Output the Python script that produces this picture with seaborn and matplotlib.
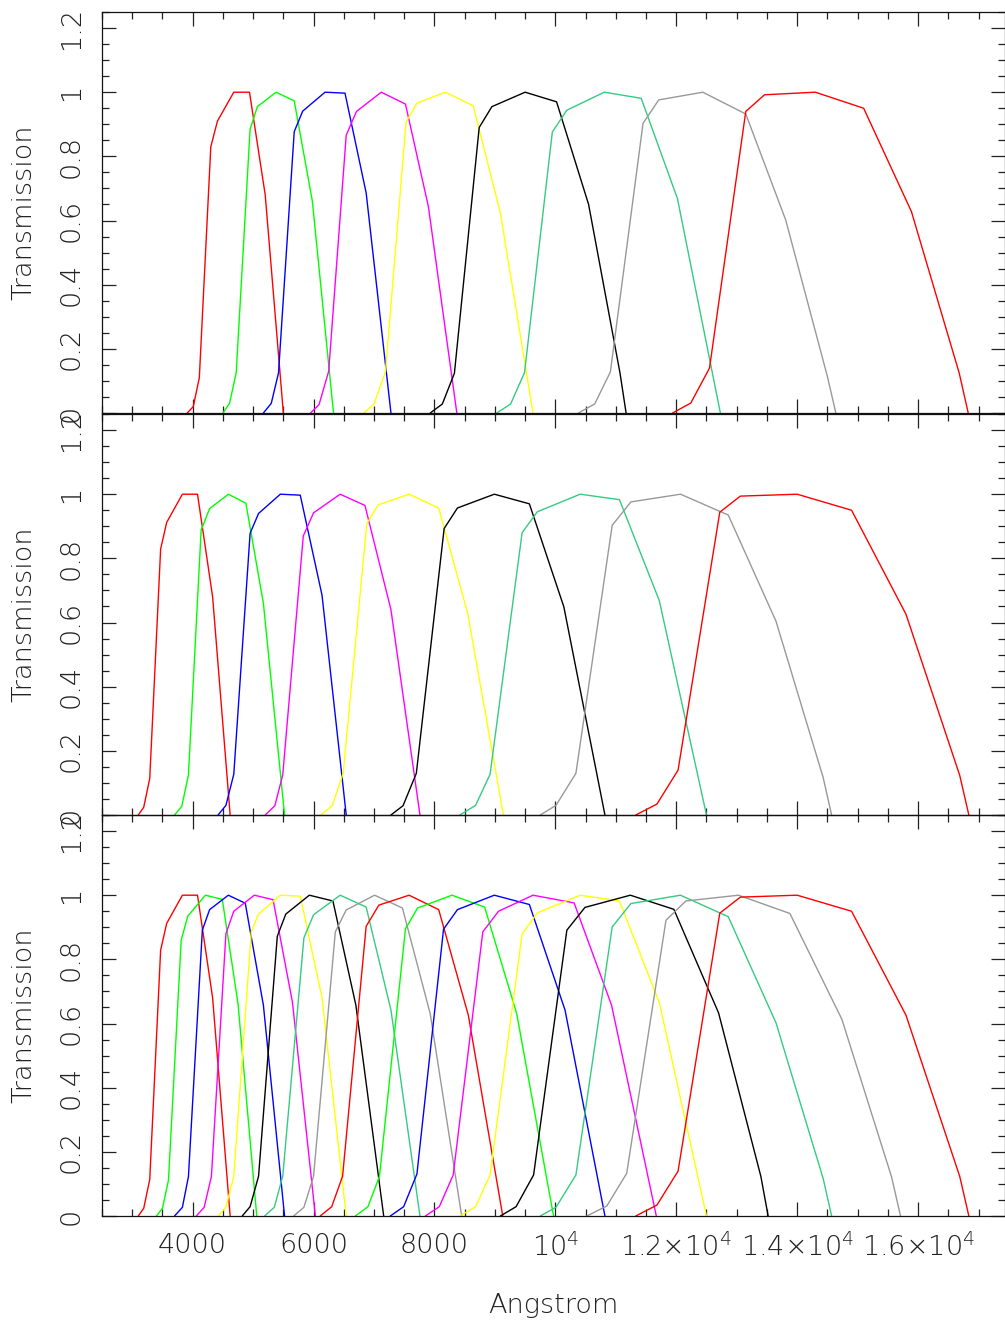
"""
plot.py
---------------------------------------------------------------------
Filter transmission curves in three stacked panels (PGPLOT look)
"""
import matplotlib
matplotlib.use("Agg")
import matplotlib.pyplot as plt
from matplotlib.ticker import MultipleLocator
import pandas as pd
import seaborn as sns


COLORS = ["#ff0000", "#00ff00", "#0000ff", "#ff00ff", "#ffff00",
          "#000000", "#33cc80", "#999999"]

# top panel
TOP_WAVE = [
    [3910, 4010, 4110, 4300, 4410, 4680, 4940, 5200, 5500],
    [4500, 4610, 4720, 4950, 5070, 5380, 5680, 5980, 6330],
    [5170, 5300, 5420, 5680, 5820, 6190, 6520, 6870, 7280],
    [5950, 6090, 6250, 6540, 6710, 7120, 7520, 7900, 8370],
    [6830, 7000, 7190, 7530, 7710, 8180, 8640, 9090, 9630],
    [7930, 8130, 8330, 8740, 8950, 9500, 10020, 10550, 11070, 11170],
    [9030, 9260, 9490, 9950, 10190, 10810, 11420, 12020, 12730],
    [10380, 10650, 10910, 11450, 11710, 12440, 13150, 13810, 14500, 14640],
    [11940, 12240, 12550, 13150, 13460, 14300, 15100, 15890, 16680, 16830],
]
TOP_TRANS = [
    [0, 0.02, 0.11, 0.83, 0.91, 1.0, 1.0, 0.68, 0],
    [0, 0.03, 0.125, 0.885, 0.955, 1.0, 0.973, 0.66, 0],
    [0, 0.03, 0.125, 0.877, 0.941, 1.0, 0.997, 0.686, 0],
    [0, 0.026, 0.13, 0.866, 0.94, 1.0, 0.963, 0.643, 0],
    [0, 0.028, 0.129, 0.907, 0.966, 1.0, 0.958, 0.624, 0],
    [0, 0.028, 0.124, 0.89, 0.955, 1.0, 0.97, 0.65, 0.124, 0],
    [0, 0.028, 0.126, 0.876, 0.944, 1.0, 0.981, 0.668, 0],
    [0, 0.028, 0.128, 0.903, 0.976, 1.0, 0.932, 0.602, 0.114, 0],
    [0, 0.031, 0.14, 0.94, 0.992, 1.0, 0.95, 0.628, 0.125, 0],
]

# middle panel
MID_WAVE = [
    [3100, 3190, 3290, 3470, 3570, 3830, 4080, 4330, 4620],
    [3700, 3820, 3930, 4140, 4280, 4590, 4880, 5170, 5520],
    [4420, 4550, 4680, 4950, 5090, 5450, 5780, 6140, 6540],
    [5200, 5360, 5490, 5830, 6000, 6440, 6850, 7280, 7760],
    [6120, 6310, 6490, 6880, 7070, 7580, 8070, 8550, 9140],
    [7280, 7480, 7700, 8160, 8380, 8990, 9570, 10140, 10820],
    [8420, 8680, 8920, 9450, 9700, 10410, 11060, 11720, 12500],
    [9750, 10010, 10340, 10940, 11250, 12070, 12860, 13650, 14430, 14570],
    [11330, 11680, 12030, 12720, 13060, 14000, 14900, 15800, 16690, 16840],
]
MID_TRANS = [
    [0, 0.024, 0.114, 0.829, 0.912, 1.0, 1.0, 0.68, 0],
    [0, 0.027, 0.125, 0.888, 0.955, 1.0, 0.972, 0.66, 0],
    [0, 0.03, 0.127, 0.878, 0.94, 1.0, 0.997, 0.685, 0],
    [0, 0.029, 0.125, 0.87, 0.942, 1.0, 0.965, 0.64, 0],
    [0, 0.03, 0.13, 0.908, 0.967, 1.0, 0.957, 0.628, 0],
    [0, 0.029, 0.13, 0.893, 0.957, 1.0, 0.97, 0.649, 0],
    [0, 0.03, 0.127, 0.88, 0.945, 1.0, 0.983, 0.668, 0],
    [0, 0.03, 0.13, 0.903, 0.976, 1.0, 0.935, 0.604, 0.117, 0],
    [0, 0.034, 0.14, 0.944, 0.994, 1.0, 0.95, 0.626, 0.123, 0],
]

# bottom panel
BOT_WAVE = [
    [3100, 3190, 3290, 3470, 3570, 3830, 4080, 4330, 4620],
    [3400, 3500, 3600, 3810, 3920, 4210, 4490, 4750, 5060],
    [3700, 3830, 3930, 4160, 4280, 4590, 4870, 5170, 5520],
    [4060, 4190, 4310, 4550, 4680, 5020, 5330, 5650, 6030],
    [4420, 4550, 4680, 4970, 5090, 5450, 5780, 6140, 6540],
    [4820, 4950, 5090, 5400, 5540, 5930, 6320, 6700, 7160],
    [5190, 5350, 5490, 5840, 6000, 6440, 6870, 7280, 7760],
    [5670, 5840, 6000, 6360, 6540, 7010, 7470, 7930, 8450],
    [6110, 6300, 6480, 6870, 7080, 7580, 8070, 8560, 9130],
    [6690, 6900, 7090, 7520, 7720, 8290, 8830, 9360, 9970],
    [7270, 7490, 7710, 8150, 8380, 8990, 9570, 10160, 10820],
    [7850, 8080, 8310, 8800, 9060, 9630, 10310, 10930, 11670],
    [8420, 8680, 8920, 9450, 9700, 10410, 11060, 11720, 12500],
    [9090, 9350, 9640, 10190, 10490, 11240, 11960, 12700, 13400, 13520],
    [9750, 10010, 10340, 10940, 11250, 12070, 12860, 13650, 14430, 14570],
    [10520, 10850, 11180, 11830, 12160, 13030, 13880, 14740, 15560, 15710],
    [11330, 11680, 12030, 12720, 13060, 14000, 14900, 15800, 16690, 16840],
]
BOT_TRANS = [
    [0, 0.024, 0.114, 0.829, 0.912, 1.0, 1.0, 0.68, 0],
    [0, 0.024, 0.112, 0.86, 0.935, 1.0, 0.987, 0.662, 0],
    [0, 0.027, 0.123, 0.891, 0.955, 1.0, 0.975, 0.657, 0],
    [0, 0.027, 0.123, 0.88, 0.95, 1.0, 0.986, 0.667, 0],
    [0, 0.027, 0.124, 0.886, 0.941, 1.0, 0.997, 0.68, 0],
    [0, 0.029, 0.124, 0.872, 0.941, 1.0, 0.982, 0.657, 0],
    [0, 0.027, 0.124, 0.867, 0.939, 1.0, 0.963, 0.642, 0],
    [0, 0.027, 0.124, 0.886, 0.954, 1.0, 0.96, 0.63, 0],
    [0, 0.029, 0.124, 0.903, 0.969, 1.0, 0.955, 0.626, 0],
    [0, 0.029, 0.124, 0.895, 0.96, 1.0, 0.963, 0.631, 0],
    [0, 0.029, 0.131, 0.894, 0.955, 1.0, 0.971, 0.642, 0],
    [0, 0.029, 0.128, 0.886, 0.95, 1.0, 0.976, 0.657, 0],
    [0, 0.029, 0.128, 0.879, 0.945, 1.0, 0.982, 0.665, 0],
    [0, 0.029, 0.128, 0.891, 0.962, 1.0, 0.956, 0.633, 0.123, 0],
    [0, 0.027, 0.128, 0.901, 0.974, 1.0, 0.933, 0.602, 0.117, 0],
    [0, 0.031, 0.133, 0.922, 0.982, 1.0, 0.943, 0.613, 0.123, 0],
    [0, 0.034, 0.14, 0.944, 0.994, 1.0, 0.95, 0.626, 0.123, 0],
]

Y_TICKS = [0, 0.2, 0.4, 0.6, 0.8, 1.0, 1.2]
Y_LABELS = ["0", "0.2", "0.4", "0.6", "0.8", "1", "1.2"]
X_TICKS = [4000, 6000, 8000, 10000, 12000, 14000, 16000]
X_LABELS = ["4000", "6000", "8000", r"$10^{4}$", r"$1.2{\times}10^{4}$",
            r"$1.4{\times}10^{4}$", r"$1.6{\times}10^{4}$"]

TEXT = "#222222"


def to_frame(waves, trans):
    rows = []
    for i, (w, t) in enumerate(zip(waves, trans)):
        for x, y in zip(w, t):
            rows.append((i, x, y))
    return pd.DataFrame(rows, columns=["band", "wave", "trans"])


def main():
    sns.set_theme(style="white")
    plt.rcParams["font.family"] = ["DejaVu Sans"]
    plt.rcParams["font.weight"] = "light"
    plt.rcParams["font.size"] = 19.5
    plt.rcParams["axes.labelsize"] = 19.5
    plt.rcParams["axes.labelweight"] = "light"
    plt.rcParams["xtick.labelsize"] = 19.5
    plt.rcParams["ytick.labelsize"] = 19.5
    plt.rcParams["mathtext.fontset"] = "dejavusans"

    fig = plt.figure(figsize=(10.05, 13.24), dpi=100)
    left, width, height = 102 / 1005, 902.5 / 1005, 401 / 1324
    bottoms = [1 - 413 / 1324, 1 - 815 / 1324, 1 - 1216 / 1324]
    panels = [(TOP_WAVE, TOP_TRANS), (MID_WAVE, MID_TRANS), (BOT_WAVE, BOT_TRANS)]

    for k, (waves, trans) in enumerate(panels):
        ax = fig.add_axes([left, bottoms[k], width, height])
        ax.set_facecolor("none")
        df = to_frame(waves, trans)
        pal = {i: COLORS[i % len(COLORS)] for i in range(len(waves))}
        sns.lineplot(data=df, x="wave", y="trans", hue="band", palette=pal,
                     estimator=None, sort=False, legend=False,
                     linewidth=1.0, ax=ax)

        ax.set_xlim(2500, 17430)
        ax.set_ylim(0, 1.25)
        ax.set_xticks(X_TICKS)
        ax.xaxis.set_minor_locator(MultipleLocator(500))
        ax.set_yticks(Y_TICKS)
        ax.yaxis.set_minor_locator(MultipleLocator(0.05))
        ax.set_yticklabels(Y_LABELS, rotation=90, va="center", color=TEXT)
        if k == 2:
            ax.set_xticklabels(X_LABELS, color=TEXT)
            ax.set_xlabel("Angstrom", color=TEXT, labelpad=23)
        else:
            ax.set_xticklabels([])
            ax.set_xlabel("")
        ax.set_ylabel("Transmission", color=TEXT, labelpad=16)

        ax.tick_params(which="both", direction="in", top=True, right=True,
                       bottom=True, left=True, width=0.9, color="#222222")
        ax.tick_params(which="major", length=10)
        ax.tick_params(which="minor", length=5)
        ax.tick_params(axis="y", pad=13)
        ax.tick_params(axis="x", pad=12)
        for spine in ax.spines.values():
            spine.set_linewidth(0.9)
            spine.set_color("#111111")

    fig.savefig("out.png", dpi=100)
    plt.close(fig)


if __name__ == "__main__":
    main()
